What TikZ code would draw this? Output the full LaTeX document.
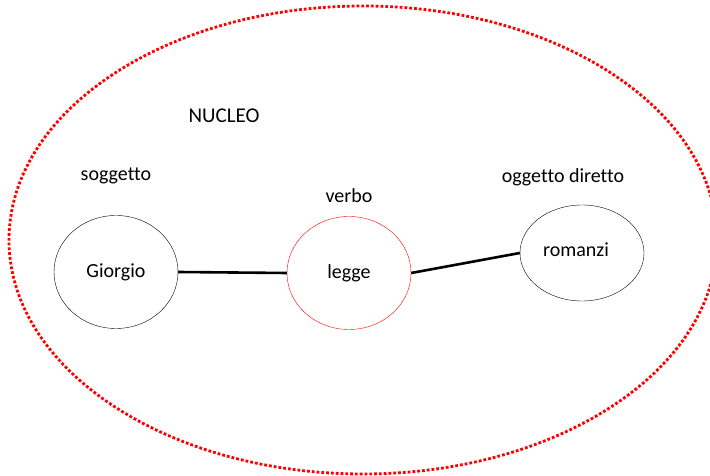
\documentclass[tikz,border=0pt]{standalone}
\usepackage{fontspec}
\setmainfont{Carlito}[Ligatures=NoCommon]
\usepackage{tikz}
\usetikzlibrary{shapes.geometric,positioning}

\begin{document}
\begin{tikzpicture}[x=1pt, y=1pt,
    every node/.style={font=\fontsize{20}{24}\selectfont},
    role/.style={ellipse, draw, thin, minimum width=124pt, minimum height=113pt},
    link/.style={line width=2.6pt}]
    \useasboundingbox (0,0) rectangle (710,476);
    \clip (0,0) rectangle (710,476);

    % nucleus boundary
    \draw[red, dotted, line width=2.8pt] (363,236) ellipse [x radius=354, y radius=234];
    \node (nucleo) at (224,360) {\fontsize{21}{25}\selectfont NUCLEO};

    % the three elements
    \node[role] (giorgio) at (116,204) {Giorgio};
    \node[role, draw=red] (legge) at (349,203) {legge};
    \node[role, minimum height=96pt] (romanzi) at (582,223) {};
    \node (romanzitext) at (576,226) {romanzi};

    \node (soggetto) at (116,300) {soggetto};
    \node (verbo) at (349,280) {verbo};
    \node (oggetto) at (563,299) {oggetto diretto};

    \draw[link] (giorgio.east) -- (legge.west);
    \draw[link] (legge.east) -- (romanzi.west);
\end{tikzpicture}
\end{document}
